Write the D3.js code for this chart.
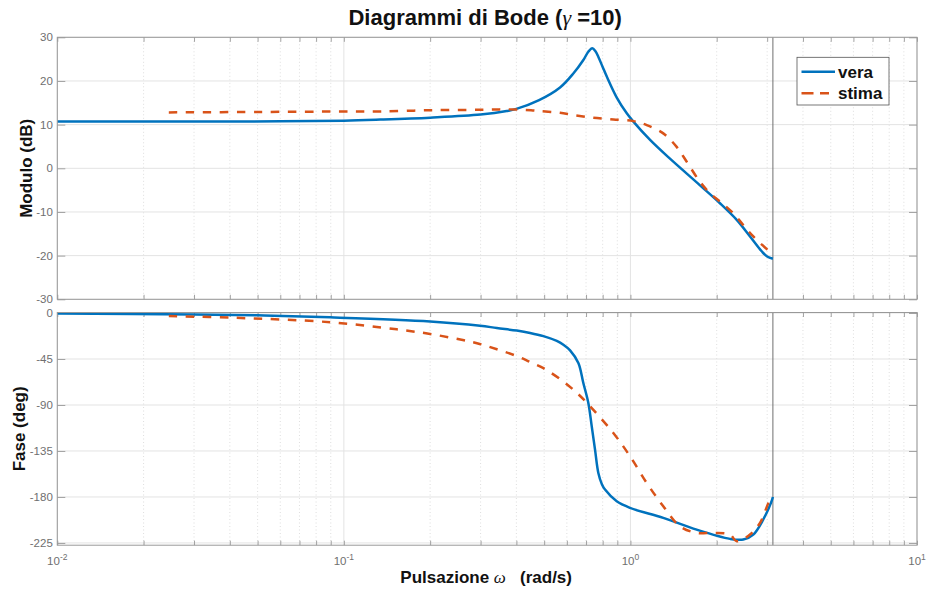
<!DOCTYPE html>
<html>
<head>
<meta charset="utf-8">
<script src="https://cdn.jsdelivr.net/npm/d3@7"></script>
<style>
  body { margin: 0; background: #fff; }
  svg { display: block; }
</style>
</head>
<body>
<svg id="chart" width="928" height="593"></svg>
<script>
// ---- Chart data -------------------------------------------------------
const titleText = "Diagrammi di Bode (";
const titleGamma = "\u03B3";
const titleTail = " =10)";
const seriesNames = ["vera", "stima"];
const freqDecades = [0.01, 0.1, 1, 10];
const freqExponents = ["-2", "-1", "0", "1"];
const magTicks = [30, 20, 10, 0, -10, -20, -30];
const phaseTicks = [0, -45, -90, -135, -180, -225];
const nyquistFreq = 3.1416;

// true system: magnitude (dB)
const wMagVera = [0.01, 0.03, 0.06, 0.1, 0.134, 0.2, 0.3, 0.37, 0.4, 0.48, 0.568, 0.632, 0.685, 0.713, 0.736, 0.755, 0.773, 0.8, 0.827, 0.896, 0.971, 1.024, 1.171, 1.374, 1.749, 2.053, 2.349, 2.614, 2.871, 3.0, 3.1416];
const magVera  = [10.7, 10.7, 10.75, 10.9, 11.15, 11.6, 12.3, 13.1, 13.6, 15.6, 18.5, 21.7, 24.8, 26.7, 27.5, 26.8, 25.5, 23.2, 21.0, 16.2, 12.6, 10.7, 6.5, 2.2, -3.9, -8.0, -11.8, -15.6, -19.0, -20.2, -20.7];

// estimated model: magnitude (dB)
const wMagStima = [0.0245, 0.05, 0.1, 0.134, 0.2, 0.3, 0.37, 0.45, 0.484, 0.568, 0.632, 0.736, 0.872, 1.024, 1.14, 1.302, 1.45, 1.572, 1.749, 1.895, 2.053, 2.285, 2.476, 2.684, 3.068, 3.1416];
const magStima  = [12.8, 12.9, 13.0, 13.0, 13.3, 13.4, 13.5, 13.3, 13.1, 12.7, 12.2, 11.6, 11.2, 10.8, 9.9, 8.0, 4.9, 1.5, -3.1, -5.7, -7.6, -10.3, -13.0, -15.6, -19.1, -19.5];

// true system: phase (deg)
const wPhaseVera = [0.01, 0.03, 0.05, 0.0896, 0.2, 0.2988, 0.3418, 0.4012, 0.4465, 0.497, 0.5533, 0.5834, 0.6157, 0.6581, 0.6849, 0.713, 0.7328, 0.7524, 0.7727, 0.795, 0.8153, 0.8957, 0.9968, 1.302, 1.703, 2.225, 2.476, 2.684, 2.908, 3.093, 3.1416];
const phaseVera  = [-0.5, -1.4, -2.3, -4.2, -8.2, -12.4, -14.7, -17.2, -19.5, -22.6, -27.3, -31.0, -36.5, -48.9, -68.5, -88, -110.9, -133.7, -156.5, -167.5, -172.8, -184.3, -190.7, -200.5, -212, -221, -221.7, -216.8, -202, -185.8, -180];

// estimated model: phase (deg)
const wPhaseStima = [0.0245, 0.041, 0.0896, 0.153, 0.2, 0.26, 0.3, 0.342, 0.4, 0.4465, 0.497, 0.583, 0.658, 0.723, 0.8716, 0.9968, 1.14, 1.302, 1.489, 1.703, 1.946, 2.225, 2.349, 2.614, 2.833, 3.093, 3.1416];
const phaseStima  = [-3.0, -4.6, -9.0, -16.0, -20.5, -26.5, -30.5, -35.5, -42, -48, -54, -67, -79.5, -91.3, -117.4, -140.2, -166.3, -189.1, -208.7, -215.2, -215.2, -216.8, -223.4, -216.8, -205.4, -180.9, -180];

// ---- Styling ----------------------------------------------------------
const FONT = "'Liberation Sans', Arial, Helvetica, sans-serif";
const SERIF = "'Liberation Serif', 'DejaVu Serif', serif";
const colVera = "#0072BD";
const colStima = "#D95319";
const axisCol = "#999999";
const labelCol = "#6f6f6f";

const svg = d3.select("#chart");

const x = d3.scaleLog().domain([0.01, 10]).range([57.3, 917]);
const yMag = d3.scaleLinear().domain([-30, 30]).range([299.3, 37.3]);
const yPh = d3.scaleLinear().domain([-227.2, 0.5]).range([545.2, 312.5]);

const allFreqTicks = x.ticks();
const minorFreqTicks = allFreqTicks.filter(v => !freqDecades.some(d => Math.abs(d - v) < 1e-9));

function drawPanel(yScale, yTickVals, showFreqLabels) {
  const left = x.range()[0], right = x.range()[1];
  const top = yScale.range()[1], bottom = yScale.range()[0];
  const g = svg.append("g");

  // grid: minor (dotted) and major (solid) frequency lines, value lines
  g.append("g").selectAll("line").data(minorFreqTicks).join("line")
    .attr("x1", d => x(d)).attr("x2", d => x(d))
    .attr("y1", top).attr("y2", bottom)
    .attr("stroke", "#d6d6d6").attr("stroke-width", 0.8)
    .attr("stroke-dasharray", "1,2.5");
  g.append("g").selectAll("line").data(freqDecades).join("line")
    .attr("x1", d => x(d)).attr("x2", d => x(d))
    .attr("y1", top).attr("y2", bottom)
    .attr("stroke", "#e3e3e3").attr("stroke-width", 1);
  g.append("g").selectAll("line").data(yTickVals).join("line")
    .attr("x1", left).attr("x2", right)
    .attr("y1", d => yScale(d)).attr("y2", d => yScale(d))
    .attr("stroke", "#e3e3e3").attr("stroke-width", 1);

  // axes (ticks pointing inward on all four sides)
  const yl = g.append("g").attr("transform", `translate(${left},0)`)
    .call(d3.axisLeft(yScale).tickValues(yTickVals).tickSize(-8).tickPadding(4.5)
      .tickFormat(d => String(d)));
  const yr = g.append("g").attr("transform", `translate(${right},0)`)
    .call(d3.axisRight(yScale).tickValues(yTickVals).tickSize(-8).tickFormat(""));
  const xb = g.append("g").attr("transform", `translate(0,${bottom})`)
    .call(d3.axisBottom(x).tickValues(allFreqTicks).tickSize(-4.5).tickFormat(""));
  const xt = g.append("g").attr("transform", `translate(0,${top})`)
    .call(d3.axisTop(x).tickValues(allFreqTicks).tickSize(-4.5).tickFormat(""));
  [yl, yr, xb, xt].forEach(a => {
    a.select(".domain").remove();
    a.selectAll(".tick line").attr("stroke", axisCol).attr("stroke-width", 0.9);
  });
  yl.selectAll(".tick text")
    .attr("fill", labelCol).attr("font-family", FONT).attr("font-size", 11.5);

  if (showFreqLabels) {
    const lab = g.append("g").selectAll("text").data(freqDecades).join("text")
      .attr("x", d => x(d)).attr("y", bottom + 20)
      .attr("text-anchor", "middle")
      .attr("fill", labelCol).attr("font-family", FONT).attr("font-size", 11.5);
    lab.append("tspan").text("10");
    lab.append("tspan").attr("dy", -5.5).attr("font-size", 8.5)
      .text((d, i) => freqExponents[i]);
  }
  return { g, left, right, top, bottom };
}

function drawBox(p) {
  p.g.append("rect")
    .attr("x", p.left).attr("y", p.top)
    .attr("width", p.right - p.left).attr("height", p.bottom - p.top)
    .attr("fill", "none").attr("stroke", axisCol).attr("stroke-width", 1);
}

function drawNyquist(p) {
  p.g.append("line")
    .attr("x1", x(nyquistFreq)).attr("x2", x(nyquistFreq))
    .attr("y1", p.top).attr("y2", p.bottom)
    .attr("stroke", "#6e6e6e").attr("stroke-width", 1);
}

function drawCurve(p, yScale, ws, vals, color, dashed) {
  const pts = ws.map((w, i) => [w, vals[i]]);
  const line = d3.line()
    .x(d => x(d[0])).y(d => yScale(d[1]))
    .curve(d3.curveCatmullRom.alpha(0.5));
  const path = p.g.append("path").datum(pts)
    .attr("d", line)
    .attr("fill", "none").attr("stroke", color)
    .attr("stroke-width", 2.5)
    .attr("stroke-linejoin", "round");
  if (dashed) path.attr("stroke-dasharray", "8.5,8.5");
}

// ---- Magnitude panel --------------------------------------------------
const pMag = drawPanel(yMag, magTicks, false);
drawNyquist(pMag);
drawCurve(pMag, yMag, wMagVera, magVera, colVera, false);
drawCurve(pMag, yMag, wMagStima, magStima, colStima, true);
drawBox(pMag);

// ---- Phase panel ------------------------------------------------------
const pPh = drawPanel(yPh, phaseTicks, true);
drawNyquist(pPh);
drawCurve(pPh, yPh, wPhaseVera, phaseVera, colVera, false);
drawCurve(pPh, yPh, wPhaseStima, phaseStima, colStima, true);
drawBox(pPh);

// ---- Titles and labels ------------------------------------------------
const midX = (x.range()[0] + x.range()[1]) / 2;
const title = svg.append("text")
  .attr("x", midX - 2).attr("y", 25)
  .attr("text-anchor", "middle")
  .attr("font-family", FONT).attr("font-size", 22).attr("font-weight", "bold")
  .attr("fill", "#111");
title.append("tspan").text(titleText);
title.append("tspan").attr("font-family", SERIF).attr("font-style", "italic")
  .attr("font-weight", "normal").text(titleGamma);
title.append("tspan").text(titleTail);

const xlab = svg.append("text")
  .attr("x", midX - 1).attr("y", 583)
  .attr("text-anchor", "middle")
  .attr("font-family", FONT).attr("font-size", 17).attr("font-weight", "bold")
  .attr("fill", "#111")
  .style("white-space", "pre");
xlab.append("tspan").text("Pulsazione ");
xlab.append("tspan").attr("font-family", SERIF).attr("font-style", "italic")
  .attr("font-weight", "normal").text("\u03C9");
xlab.append("tspan").text("   (rad/s)");

svg.append("text")
  .attr("transform", `translate(31.5,${(pMag.top + pMag.bottom) / 2}) rotate(-90)`)
  .attr("text-anchor", "middle")
  .attr("font-family", FONT).attr("font-size", 17).attr("font-weight", "bold")
  .attr("fill", "#111").text("Modulo (dB)");

svg.append("text")
  .attr("transform", `translate(24.5,${(pPh.top + pPh.bottom) / 2}) rotate(-90)`)
  .attr("text-anchor", "middle")
  .attr("font-family", FONT).attr("font-size", 17).attr("font-weight", "bold")
  .attr("fill", "#111").text("Fase (deg)");

// ---- Legend -----------------------------------------------------------
const leg = svg.append("g").attr("transform", "translate(797,57.3)");
leg.append("rect").attr("width", 92).attr("height", 47.7)
  .attr("fill", "#fff").attr("stroke", "#555").attr("stroke-width", 0.8);
const legendColors = [colVera, colStima];
seriesNames.forEach((name, i) => {
  const cy = 14.4 + i * 21.6;
  const l = leg.append("line")
    .attr("x1", 4.5).attr("x2", 38).attr("y1", cy).attr("y2", cy)
    .attr("stroke", legendColors[i]).attr("stroke-width", 2.5);
  if (i === 1) l.attr("stroke-dasharray", "12,6.5,9,20");
  leg.append("text").attr("x", 41).attr("y", cy + 6)
    .attr("font-family", FONT).attr("font-size", 17).attr("font-weight", "bold")
    .attr("fill", "#111").text(name);
});
</script>
</body>
</html>
